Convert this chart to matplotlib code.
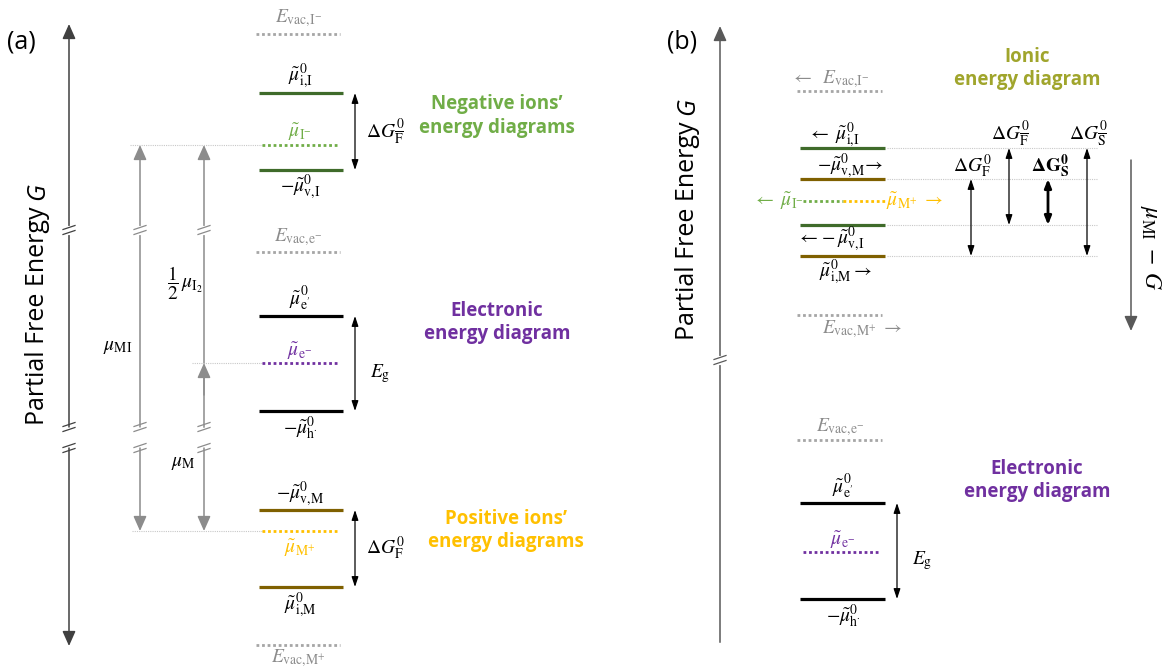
import matplotlib.pyplot as plt

plt.rcParams['mathtext.fontset'] = 'stix'

# colours
GREEN_D = '#3f6b2a'
GREEN_L = '#70ad47'
BROWN = '#7f6000'
ORANGE = '#ffc000'
PURPLE = '#7030a0'
VAC = '#a6a6a6'
VAC_TXT = '#8c8c8c'
OLIVE = '#a0a52c'
ARR_GREY = '#8c8c8c'

# energy levels, in picture rows (0 = top)
# panel (a)
a_vac = [34, 252, 645]                 # E_vac,I- ; E_vac,e- ; E_vac,M+
a_neg = [93, 145, 170]                 # mu_i,I ; mu_I- ; -mu_v,I
a_ele = [316, 363, 411]                # mu_e' ; mu_e- ; -mu_h
a_pos = [510, 531, 587]                # -mu_v,M ; mu_M+ ; mu_i,M
# chemical potentials: (x, top, bottom)
a_mu = [(140, 145, 531), (204, 145, 363), (204, 363, 531)]
a_breaks = [230, 427, 448]

# panel (b)
b_vac = [91, 315, 440]                 # E_vac,I- ; E_vac,M+ ; E_vac,e-
b_ion = [148, 179, 201, 225, 256]      # mu_i,I ; -mu_v,M ; mu_I-/mu_M+ ; -mu_v,I ; mu_i,M
b_ele = [503, 552, 599]
# delta G arrows: (x, top, bottom)
b_dg = [(971, 179, 256), (1009, 148, 225), (1048, 179, 225), (1087, 148, 256)]

fig = plt.figure(figsize=(11.64, 6.68), dpi=100)
ax = fig.add_axes([0, 0, 1, 1])
ax.set_xlim(0, 1164)
ax.set_ylim(668, 0)
ax.axis('off')


def level(x0, x1, y, color, dotted=False, lw=2.3):
    if dotted:
        ax.plot([x0, x1], [y, y], color=color, lw=2.0, ls=(0, (1, 1)), solid_capstyle='butt')
    else:
        ax.plot([x0, x1], [y, y], color=color, lw=lw, solid_capstyle='butt')


def guide(x0, x1, y):
    ax.plot([x0, x1], [y, y], color='#c8c8c8', lw=0.8, ls=(0, (1, 1)))


def arrow(x, y0, y1, style='<|-|>', color='black', lw=0.9, hl=0.6, hw=0.2, ms=10):
    ax.annotate('', xy=(x, y1), xytext=(x, y0),
                arrowprops=dict(arrowstyle=f'{style},head_length={hl},head_width={hw}',
                                color=color, lw=lw, shrinkA=0, shrinkB=0,
                                mutation_scale=ms))


def big_arrow(x, y0, y1, color):
    arrow(x, y0, y1, style='-|>', color=color, lw=1.1, hl=0.9, hw=0.4, ms=10)


def slash(x, y, color, gap=True):
    if gap:
        ax.plot([x, x], [y - 2.5, y + 2.5], color='white', lw=3, zorder=3)
    for d in (-2.5, 2.5):
        ax.plot([x - 6, x + 6], [y + d + 2, y + d - 2], color=color, lw=0.9, zorder=4)


def lab(x, y, s, color='black', size=14, **kw):
    ax.text(x, y, s, color=color, fontsize=size, ha=kw.pop('ha', 'center'),
            va=kw.pop('va', 'center'), **kw)


def title(x, y, s, color):
    ax.text(x, y, s, color=color, fontsize=13.5, fontweight='bold', family='Open Sans',
            ha='center', va='center', linespacing=1.2)


def ylabel(x, y, size=18):
    t = ax.text(x, y, 'Partial Free Energy ', fontsize=size, family='Open Sans',
                rotation=90, rotation_mode='anchor', ha='left', va='center')
    fig.canvas.draw()
    bb = t.get_window_extent().transformed(ax.transData.inverted())
    ax.text(x, min(bb.y0, bb.y1), 'G', fontsize=size, family='Open Sans', style='italic',
            rotation=90, rotation_mode='anchor', ha='left', va='center')


# ------------------------------------------------------------ panel (a)
ax.text(7, 42, '(a)', fontsize=18, family='Open Sans', va='center')

# main axis
big_arrow(69, 427, 24, '#404040')
big_arrow(69, 448, 646, '#404040')
for yb in a_breaks:
    slash(69, yb, '#404040', gap=(yb == a_breaks[0]))
ylabel(38, 425)

# chemical potential arrows
for x, yt, yb in a_mu:
    if yt == 145 and yb == 531:
        big_arrow(x, 427, yt, ARR_GREY)
        big_arrow(x, 448, yb, ARR_GREY)
        for ybr in a_breaks:
            slash(x, ybr, ARR_GREY, gap=(ybr == a_breaks[0]))
    elif yb == 363:
        big_arrow(x, yb, yt, ARR_GREY)
        slash(x, a_breaks[0], ARR_GREY)
    else:
        ax.plot([x, x], [yt + 8, 427], color=ARR_GREY, lw=1.1)
        big_arrow(x, 448, yb, ARR_GREY)
        for ybr in a_breaks[1:]:
            slash(x, ybr, ARR_GREY, gap=False)
big_arrow(204, 395, 363, ARR_GREY)

guide(130, 262, a_neg[1])
guide(192, 262, a_ele[1])
guide(132, 262, a_pos[1])

lab(118, 347, r'$\mu_{\mathrm{MI}}$')
lab(185, 283, r'$\dfrac{1}{2}\,\mu_{\mathrm{I_2}}$')
lab(183, 462, r'$\mu_{\mathrm{M}}$')

# levels
LX0, LX1 = 259, 343
for y in a_vac:
    level(LX0 - 3, LX1 - 3, y, VAC, dotted=True)
level(LX0, LX1, a_neg[0], GREEN_D)
level(LX0 + 3, LX1 - 5, a_neg[1], GREEN_L, dotted=True)
level(LX0, LX1, a_neg[2], GREEN_D)
level(LX0, LX1, a_ele[0], 'black')
level(LX0 + 3, LX1 - 5, a_ele[1], PURPLE, dotted=True)
level(LX0, LX1, a_ele[2], 'black')
level(LX0, LX1, a_pos[0], BROWN)
level(LX0 + 3, LX1 - 5, a_pos[1], ORANGE, dotted=True)
level(LX0, LX1, a_pos[2], BROWN)

lab(298, a_vac[0] - 16, r'$E_{\mathrm{vac{,}I^{-}}}$', VAC_TXT)
lab(300, a_neg[0] - 17, r'$\tilde{\mu}^0_{\mathrm{i{,}I}}$')
lab(300, a_neg[1] - 13, r'$\tilde{\mu}_{\mathrm{I^{-}}}$', GREEN_L)
lab(300, a_neg[2] + 17, r'$-\tilde{\mu}^0_{\mathrm{v{,}I}}$')
lab(298, a_vac[1] - 15, r'$E_{\mathrm{vac{,}e^{-}}}$', VAC_TXT)
lab(300, a_ele[0] - 17, r"$\tilde{\mu}^0_{\mathrm{e^{\prime}}}$")
lab(300, a_ele[1] - 12, r'$\tilde{\mu}_{\mathrm{e^{-}}}$', PURPLE)
lab(300, a_ele[2] + 17, r'$-\tilde{\mu}^0_{\mathrm{h^{\cdot}}}$')
lab(300, a_pos[0] - 16, r'$-\tilde{\mu}^0_{\mathrm{v{,}M}}$')
lab(300, a_pos[1] + 17, r'$\tilde{\mu}_{\mathrm{M^{+}}}$', ORANGE)
lab(300, a_pos[2] + 18, r'$\tilde{\mu}^0_{\mathrm{i{,}M}}$')
lab(298, a_vac[2] + 13, r'$E_{\mathrm{vac{,}M^{+}}}$', VAC_TXT)

arrow(355, a_neg[0], a_neg[2])
arrow(355, a_ele[0], a_ele[2])
arrow(355, a_pos[0], a_pos[2])
lab(366, (a_neg[0] + a_neg[2]) / 2, r'$\Delta G^0_{\overline{\mathrm{F}}}$', ha='left')
lab(370, (a_ele[0] + a_ele[2]) / 2 + 10, r'$E_{\mathrm{g}}$', ha='left')
lab(366, (a_pos[0] + a_pos[2]) / 2, r'$\Delta G^0_{\mathrm{F}}$', ha='left')

title(497, 116, 'Negative ions\u2019\nenergy diagrams', GREEN_L)
title(497, 322, 'Electronic\nenergy diagram', PURPLE)
title(506, 531, 'Positive ions\u2019\nenergy diagrams', ORANGE)

# ------------------------------------------------------------ panel (b)
ax.text(667, 42, '(b)', fontsize=18, family='Open Sans', va='center')
big_arrow(720, 360, 26, '#595959')
ax.plot([720, 720], [360, 642], color='#595959', lw=1.1)
slash(720, 360, '#595959')
ylabel(688, 340)

BX0, BX1 = 800, 885
for y in b_vac:
    level(BX0 - 3, BX1 - 3, y, VAC, dotted=True)
level(BX0, BX1, b_ion[0], GREEN_D)
level(BX0, BX1, b_ion[1], BROWN)
level(BX0 + 3, 843, b_ion[2], GREEN_L, dotted=True)
level(843, BX1, b_ion[2], ORANGE, dotted=True)
level(BX0, BX1, b_ion[3], GREEN_D)
level(BX0, BX1, b_ion[4], BROWN)
for y in (b_ion[0], b_ion[1], b_ion[3], b_ion[4]):
    guide(BX1 + 2, 1098, y)

lab(830, b_vac[0] - 12, r'$\leftarrow\;\;E_{\mathrm{vac{,}I^{-}}}$', VAC_TXT)
lab(834, b_ion[0] - 13, r'$\leftarrow\;\tilde{\mu}^0_{\mathrm{i{,}I}}$')
lab(850, b_ion[1] - 13, r'$-\tilde{\mu}^0_{\mathrm{v{,}M}}\!\rightarrow$')
lab(804, b_ion[2], r'$\leftarrow\;\tilde{\mu}_{\mathrm{I^{-}}}$', GREEN_L, ha='right')
lab(886, b_ion[2], r'$\tilde{\mu}_{\mathrm{M^{+}}}\;\rightarrow$', ORANGE, ha='left')
lab(831, b_ion[3] + 14, r'$\leftarrow\!-\tilde{\mu}^0_{\mathrm{v{,}I}}$')
lab(845, b_ion[4] + 16, r'$\tilde{\mu}^0_{\mathrm{i{,}M}}\rightarrow$')
lab(862, b_vac[1] + 14, r'$E_{\mathrm{vac{,}M^{+}}}\;\rightarrow$', VAC_TXT)
lab(840, b_vac[2] - 13, r'$E_{\mathrm{vac{,}e^{-}}}$', VAC_TXT)

for x, yt, yb in b_dg:
    bold = (x == b_dg[2][0])
    arrow(x, yt, yb, lw=2.0 if bold else 0.9, hl=0.5 if bold else 0.6, hw=0.2)
lab(972, b_dg[0][1] - 13, r'$\Delta G^0_{\mathrm{F}}$')
lab(1010, b_dg[1][1] - 14, r'$\Delta G^0_{\overline{\mathrm{F}}}$')
lab(1050, b_dg[2][1] - 13, r'$\mathbf{\Delta G^0_S}$')
lab(1088, b_dg[3][1] - 14, r'$\Delta G^0_{\overline{\mathrm{S}}}$')

title(1027, 69, 'Ionic\nenergy diagram', OLIVE)

big_arrow(1131, 160, 331, '#595959')
lab(1151, 248, r'$\mu_{\mathrm{MI}}\;-\;G$', size=17, rotation=-90)

level(BX0, BX1, b_ele[0], 'black')
level(BX0 + 3, BX1 - 5, b_ele[1], PURPLE, dotted=True)
level(BX0, BX1, b_ele[2], 'black')
lab(843, b_ele[0] - 16, r"$\tilde{\mu}^0_{\mathrm{e^{\prime}}}$")
lab(843, b_ele[1] - 12, r'$\tilde{\mu}_{\mathrm{e^{-}}}$', PURPLE)
lab(843, b_ele[2] + 17, r'$-\tilde{\mu}^0_{\mathrm{h^{\cdot}}}$')
arrow(897, b_ele[0], b_ele[2])
lab(912, (b_ele[0] + b_ele[2]) / 2 + 10, r'$E_{\mathrm{g}}$', ha='left')
title(1037, 480, 'Electronic\nenergy diagram', PURPLE)

fig.savefig('out.png', dpi=100)
